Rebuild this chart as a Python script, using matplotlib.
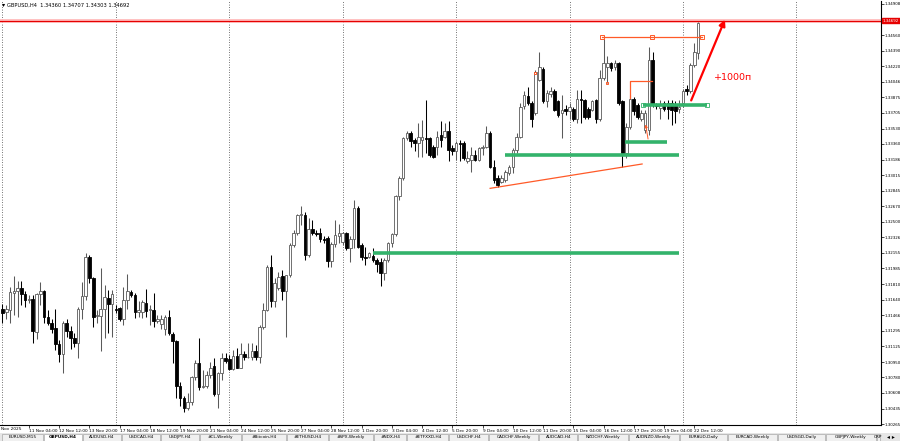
import numpy as np
import matplotlib.pyplot as plt
from matplotlib import font_manager

# GBPUSD H4 bars, 10 Nov 2025 00:00 .. 22 Dec 2025 16:00
opens = [
    1.3154, 1.3150, 1.3153, 1.3171, 1.3173, 1.3177, 1.3170, 1.3164, 1.3165, 1.3128,
    1.3170, 1.3173, 1.3145, 1.3138, 1.3133, 1.3115, 1.3104, 1.3138, 1.3129, 1.3122,
    1.3116, 1.3154, 1.3168, 1.3211, 1.3188, 1.3146, 1.3146, 1.3154, 1.3166, 1.3159,
    1.3154, 1.3155, 1.3142, 1.3163, 1.3172, 1.3169, 1.3150, 1.3150, 1.3160, 1.3152,
    1.3153, 1.3140, 1.3137, 1.3131, 1.3145, 1.3126, 1.3118, 1.3068, 1.3055, 1.3044,
    1.3051, 1.3078, 1.3094, 1.3067, 1.3069, 1.3081, 1.3091, 1.3060, 1.3083, 1.3099,
    1.3098, 1.3087, 1.3102, 1.3088, 1.3104, 1.3100, 1.3100, 1.3107, 1.3101, 1.3134,
    1.3153, 1.3200, 1.3162, 1.3177, 1.3190, 1.3173, 1.3191, 1.3224, 1.3237, 1.3257,
    1.3257, 1.3213, 1.3242, 1.3237, 1.3238, 1.3231, 1.3232, 1.3207, 1.3225, 1.3234,
    1.3228, 1.3237, 1.3221, 1.3231, 1.3265, 1.3224, 1.3211, 1.3211, 1.3212, 1.3208,
    1.3206, 1.3193, 1.3208, 1.3226, 1.3236, 1.3278, 1.3298, 1.3342, 1.3348, 1.3340,
    1.3337, 1.3340, 1.3343, 1.3342, 1.3333, 1.3333, 1.3346, 1.3344, 1.3350, 1.3331,
    1.3328, 1.3337, 1.3337, 1.3317, 1.3318, 1.3324, 1.3318, 1.3332, 1.3333, 1.3348,
    1.3311, 1.3298, 1.3294, 1.3296, 1.3304, 1.3311, 1.3329, 1.3344, 1.3378, 1.3389,
    1.3381, 1.3370, 1.3407, 1.3419, 1.3383, 1.3391, 1.3395, 1.3383, 1.3370, 1.3375,
    1.3372, 1.3375, 1.3363, 1.3386, 1.3385, 1.3375, 1.3374, 1.3385, 1.3363, 1.3409,
    1.3421, 1.3425, 1.3421, 1.3425, 1.3383, 1.3326, 1.3355, 1.3386, 1.3379, 1.3363,
    1.3351, 1.3351, 1.3429, 1.3379, 1.3376, 1.3381, 1.3381, 1.3381, 1.3379, 1.3375,
    1.3381, 1.3397, 1.3394, 1.3423, 1.34360,
]
highs = [
    1.3159, 1.3158, 1.3178, 1.3190, 1.3184, 1.3184, 1.3173, 1.3169, 1.3169, 1.3171,
    1.3183, 1.3175, 1.3153, 1.3142, 1.3154, 1.3119, 1.3140, 1.3142, 1.3135, 1.3127,
    1.3156, 1.3183, 1.3215, 1.3213, 1.3189, 1.3153, 1.3199, 1.3180, 1.3175, 1.3175,
    1.3158, 1.3156, 1.3178, 1.3192, 1.3175, 1.3171, 1.3162, 1.3164, 1.3176, 1.3158,
    1.3171, 1.3147, 1.3147, 1.3147, 1.3153, 1.3128, 1.3119, 1.3073, 1.3057, 1.3061,
    1.3079, 1.3097, 1.3122, 1.3086, 1.3085, 1.3095, 1.3099, 1.3084, 1.3105, 1.3105,
    1.3103, 1.3108, 1.3110, 1.3116, 1.3107, 1.3116, 1.3116, 1.3114, 1.3136, 1.3160,
    1.3202, 1.3213, 1.3188, 1.3195, 1.3197, 1.3191, 1.3226, 1.3241, 1.3259, 1.3267,
    1.3261, 1.3254, 1.3252, 1.3241, 1.3243, 1.3234, 1.3234, 1.3228, 1.3252, 1.3248,
    1.3239, 1.3239, 1.3234, 1.3274, 1.3267, 1.3226, 1.3222, 1.3217, 1.3221, 1.3210,
    1.3210, 1.3210, 1.3228, 1.3237, 1.3280, 1.3300, 1.3344, 1.3350, 1.3350, 1.3342,
    1.3359, 1.3362, 1.3385, 1.3344, 1.3335, 1.3350, 1.3361, 1.3359, 1.3361, 1.3335,
    1.3339, 1.3340, 1.3339, 1.3328, 1.3333, 1.3329, 1.3333, 1.3335, 1.3356, 1.3350,
    1.3318, 1.3302, 1.3302, 1.3307, 1.3313, 1.3331, 1.3348, 1.3381, 1.3394, 1.3399,
    1.3383, 1.3418, 1.3438, 1.3421, 1.3396, 1.3399, 1.3397, 1.3385, 1.3390, 1.3379,
    1.3381, 1.3377, 1.3396, 1.3396, 1.3386, 1.3377, 1.3385, 1.3386, 1.3418, 1.3455,
    1.3433, 1.3427, 1.3429, 1.3427, 1.3385, 1.3359, 1.3390, 1.3388, 1.3381, 1.3374,
    1.3373, 1.3443, 1.3438, 1.3381, 1.3385, 1.3383, 1.3385, 1.3385, 1.3383, 1.3385,
    1.3397, 1.3401, 1.3425, 1.3447, 1.34707,
]
lows = [
    1.3138, 1.3142, 1.3138, 1.3147, 1.3145, 1.3158, 1.3156, 1.3160, 1.3116, 1.3120,
    1.3158, 1.3138, 1.3136, 1.3127, 1.3108, 1.3095, 1.3083, 1.3123, 1.3109, 1.3112,
    1.3099, 1.3142, 1.3164, 1.3182, 1.3134, 1.3138, 1.3107, 1.3121, 1.3127, 1.3123,
    1.3149, 1.3140, 1.3136, 1.3154, 1.3167, 1.3144, 1.3145, 1.3144, 1.3145, 1.3136,
    1.3134, 1.3138, 1.3131, 1.3125, 1.3125, 1.3094, 1.3055, 1.3046, 1.3040, 1.3042,
    1.3048, 1.3075, 1.3064, 1.3066, 1.3066, 1.3077, 1.3057, 1.3044, 1.3075, 1.3094,
    1.3086, 1.3086, 1.3088, 1.3088, 1.3097, 1.3099, 1.3097, 1.3097, 1.3094, 1.3132,
    1.3151, 1.3156, 1.3156, 1.3175, 1.3164, 1.3123, 1.3189, 1.3222, 1.3235, 1.3246,
    1.3208, 1.3211, 1.3235, 1.3234, 1.3228, 1.3226, 1.3200, 1.3200, 1.3222, 1.3226,
    1.3224, 1.3219, 1.3206, 1.3221, 1.3221, 1.3208, 1.3202, 1.3210, 1.3206, 1.3195,
    1.3179, 1.3186, 1.3206, 1.3222, 1.3234, 1.3274, 1.3296, 1.3340, 1.3333, 1.3328,
    1.3322, 1.3322, 1.3326, 1.3322, 1.3320, 1.3324, 1.3333, 1.3342, 1.3317, 1.3324,
    1.3318, 1.3317, 1.3318, 1.3315, 1.3305, 1.3317, 1.3317, 1.3324, 1.3331, 1.3309,
    1.3293, 1.3288, 1.3293, 1.3294, 1.3302, 1.3304, 1.3326, 1.3342, 1.3375, 1.3379,
    1.3355, 1.3368, 1.3405, 1.3381, 1.3377, 1.3388, 1.3372, 1.3366, 1.3342, 1.3368,
    1.3363, 1.3361, 1.3359, 1.3359, 1.3364, 1.3363, 1.3372, 1.3359, 1.3361, 1.3407,
    1.3403, 1.3417, 1.3418, 1.3379, 1.3311, 1.3320, 1.3353, 1.3368, 1.3363, 1.3361,
    1.3348, 1.3346, 1.3377, 1.3375, 1.3363, 1.3372, 1.3363, 1.3357, 1.3359, 1.3370,
    1.3377, 1.3390, 1.3392, 1.3421, 1.34303,
]
closes = [
    1.3149, 1.3154, 1.3172, 1.3173, 1.3177, 1.3170, 1.3164, 1.3165, 1.3129, 1.3170,
    1.3173, 1.3145, 1.3138, 1.3132, 1.3115, 1.3104, 1.3138, 1.3129, 1.3122, 1.3116,
    1.3154, 1.3168, 1.3211, 1.3188, 1.3145, 1.3147, 1.3154, 1.3167, 1.3159, 1.3170,
    1.3153, 1.3142, 1.3164, 1.3173, 1.3169, 1.3150, 1.3152, 1.3161, 1.3151, 1.3154,
    1.3140, 1.3142, 1.3143, 1.3145, 1.3127, 1.3118, 1.3068, 1.3055, 1.3044, 1.3051,
    1.3078, 1.3094, 1.3067, 1.3069, 1.3081, 1.3088, 1.3060, 1.3083, 1.3099, 1.3096,
    1.3087, 1.3102, 1.3088, 1.3104, 1.3100, 1.3101, 1.3107, 1.3100, 1.3134, 1.3153,
    1.3200, 1.3162, 1.3182, 1.3189, 1.3173, 1.3191, 1.3224, 1.3237, 1.3257, 1.3259,
    1.3213, 1.3242, 1.3237, 1.3236, 1.3231, 1.3230, 1.3207, 1.3225, 1.3235, 1.3237,
    1.3237, 1.3221, 1.3231, 1.3265, 1.3222, 1.3211, 1.3210, 1.3215, 1.3208, 1.3203,
    1.3193, 1.3208, 1.3226, 1.3236, 1.3278, 1.3298, 1.3342, 1.3348, 1.3339, 1.3337,
    1.3344, 1.3344, 1.3341, 1.3324, 1.3322, 1.3344, 1.3340, 1.3350, 1.3329, 1.3328,
    1.3337, 1.3336, 1.3320, 1.3320, 1.3324, 1.3318, 1.3332, 1.3333, 1.3348, 1.3311,
    1.3296, 1.3291, 1.3298, 1.3305, 1.3311, 1.3329, 1.3344, 1.3377, 1.3390, 1.3381,
    1.3363, 1.3416, 1.3421, 1.3383, 1.3392, 1.3395, 1.3374, 1.3368, 1.3373, 1.3372,
    1.3377, 1.3363, 1.3386, 1.3385, 1.3366, 1.3366, 1.3383, 1.3363, 1.3409, 1.3425,
    1.3425, 1.3420, 1.3425, 1.3381, 1.3326, 1.3355, 1.3386, 1.3372, 1.3366, 1.3370,
    1.3370, 1.3429, 1.3379, 1.3378, 1.3380, 1.3375, 1.3375, 1.3374, 1.3372, 1.3377,
    1.3394, 1.3394, 1.3423, 1.3437, 1.34692,
]

# axis labels
price_labels = [1.34908, 1.34560, 1.34390, 1.34220, 1.34046, 1.33875, 1.33705,
                1.33530, 1.33360, 1.33186, 1.33015, 1.32845, 1.32670, 1.32500,
                1.32326, 1.32155, 1.31985, 1.31810, 1.31640, 1.31466, 1.31295,
                1.31125, 1.30950, 1.30780, 1.30608, 1.30435, 1.30265]
date_labels = ["11 Nov 04:00", "12 Nov 12:00", "13 Nov 20:00", "17 Nov 04:00",
               "18 Nov 12:00", "19 Nov 20:00", "21 Nov 04:00", "24 Nov 12:00",
               "25 Nov 20:00", "27 Nov 04:00", "28 Nov 12:00", "1 Dec 20:00",
               "3 Dec 04:00", "4 Dec 12:00", "5 Dec 20:00", "9 Dec 04:00",
               "10 Dec 12:00", "11 Dec 20:00", "15 Dec 04:00", "16 Dec 12:00",
               "17 Dec 20:00", "19 Dec 04:00", "22 Dec 12:00"]
tabs = ["EURUSD,M15", "GBPUSD,H4", "AUDUSD,H4", "USDCAD,H4", "USDJPY,H4",
        "#CL,Weekly", "#Bitcoin,H4", "#ETHUSD,H4", "#SPX,Weekly", "#NDX,H4",
        "#ETFXXD,H4", "USDCHF,H4", "CADCHF,Weekly", "AUDCAD,H4", "NZDCHF,Weekly",
        "AUDNZD,Weekly", "EURAUD,Daily", "EURCAD,Weekly", "USDSGD,Daily",
        "GBPJPY,Weekly", "CRP"]

# drawn objects (bar index, price)
green_levels = [(98, 179, 1.32154), (133, 179, 1.33237),
                (164.7, 175.8, 1.33378), (169.5, 186.3, 1.33790)]
trend_line = [(129, 1.32869), (169.2, 1.33138)]
top_level = (158.7, 185, 1.34544)
mid_level = (166, 171.7, 1.34058, 1.33864)
resist_line = 1.34723
arrow_from = (181.9, 1.33812)
arrow_to = (191.4, 1.34762)

names = {f.name for f in font_manager.fontManager.ttflist}
if 'Liberation Sans Narrow' in names:
    small = dict(family='Liberation Sans Narrow', size=3.9)
    tiny = dict(family='Liberation Sans Narrow', size=3.6)
    head = dict(family='Liberation Sans Narrow', size=4.6)
else:
    small = dict(family='DejaVu Sans', size=3.1)
    tiny = dict(family='DejaVu Sans', size=2.9)
    head = dict(family='DejaVu Sans', size=3.7)

o = np.array(opens); h = np.array(highs); l = np.array(lows); c = np.array(closes)
x = np.arange(len(o))
up = c >= o

fig = plt.figure(figsize=(9, 4.41), dpi=100)
ax = fig.add_axes([0, 16 / 441, 881 / 900, 424 / 441])
ax.set_xlim(-0.66, 232.4)
ax.set_ylim(1.30254, 1.34939)

# weekly dotted grid
for gx in range(0, 233, 30):
    ax.axvline(gx, color='#444444', lw=0.6, ls=(0, (1, 2)), zorder=0)

# red level with halo
ax.axhline(resist_line, color='#ffb4b4', lw=2.6, zorder=1)
ax.axhline(resist_line, color='#e60000', lw=0.8, zorder=1)

# candles
edge = np.where(up, '#5a5a5a', '#000000')
fill = np.where(up, '#ffffff', '#000000')
ax.vlines(x, l, h, colors=edge, lw=0.75, zorder=2)
body = np.maximum(np.abs(c - o), 0.00003)
ax.bar(x, body, bottom=np.minimum(o, c), width=0.68, color=fill,
       edgecolor=edge, linewidth=0.6, zorder=3)

# green levels
for x0, x1, p in green_levels:
    ax.plot([x0, x1], [p, p], color='#33b36b', lw=2.6, solid_capstyle='butt', zorder=4)
gx0, gx1, gp = green_levels[-1]
ax.plot([gx0, gx1], [gp, gp], 's', ms=2.2, mfc='none', mec='#33b36b', mew=0.6, zorder=5)

# orange objects
orange = '#ff5a28'
ax.plot([trend_line[0][0], trend_line[1][0]], [trend_line[0][1], trend_line[1][1]],
        color=orange, lw=0.9, zorder=4)
tx0, tx1, tp = top_level
ax.plot([tx0, tx1], [tp, tp], color=orange, lw=0.9, zorder=4)
ax.plot([tx0, 171.9, tx1], [tp, tp, tp], 's', ms=2.2, mfc='none', mec=orange, mew=0.7, zorder=5)
mx0, mx1, mp, mlow = mid_level
ax.plot([mx0, mx0, mx1], [mlow, mp, mp], color=orange, lw=0.9, zorder=4)
ax.plot([141, 159.8], [1.34143, 1.34030], 's', ms=2, mfc='none', mec=orange, mew=0.7, zorder=5)
ax.annotate('', xy=(170, 1.33605), xytext=(170.9, 1.33384),
            arrowprops=dict(arrowstyle='-|>', color=orange, lw=0.7, mutation_scale=4), zorder=5)

# red arrow and label
ax.annotate('', xy=arrow_to, xytext=arrow_from,
            arrowprops=dict(arrowstyle='-|>', color='#ff0000', lw=1.6, mutation_scale=9))
ax.text(188.2, 1.34099, '+1000п', color='#ff0000', fontsize=6.8, va='center', ha='left')

# axes styling
for s in ['left', 'top']:
    ax.spines[s].set_visible(False)
ax.spines['right'].set_linewidth(0.8)
ax.spines['bottom'].set_linewidth(0.8)
ax.yaxis.tick_right()
ax.set_yticks(price_labels)
ax.set_yticklabels([f'{p:.5f}' for p in price_labels], fontdict=tiny)
ax.tick_params(axis='y', length=2, width=0.5, pad=0.8)
ax.set_xticks(range(7, 184, 8))
ax.set_xticklabels(date_labels, fontdict=small)
ax.tick_params(axis='x', length=2, width=0.5, pad=1)
for t in ax.get_xticklabels():
    t.set_ha('left')
fig.text(0.001, 1 - 429.5 / 441, 'Nov 2025', va='center', ha='left', **small)

# price box of the red line
ax.text(1.002, resist_line, f'{closes[-1]:.5f}', transform=ax.get_yaxis_transform(),
        color='white', va='center', ha='left',
        bbox=dict(boxstyle='square,pad=0.15', fc='#e60000', ec='#e60000'), **tiny)

# header
fig.text(2 / 900, 1 - 5 / 441, '▾', fontsize=4.5, va='center', ha='left')
fig.text(7 / 900, 1 - 5 / 441,
         f'GBPUSD,H4  {opens[-1]:.5f} {highs[-1]:.5f} {lows[-1]:.5f} {closes[-1]:.5f}',
         va='center', ha='left', **head)

# tab bar
tab_ax = fig.add_axes([0, 0, 1, 8 / 441])
tab_ax.set_xlim(0, 900)
tab_ax.set_ylim(0, 8)
tab_ax.axis('off')
tab_ax.add_patch(plt.Rectangle((0, 0), 900, 8, color='#e6e6e6'))
pos = 2
for k, name in enumerate(tabs):
    w = min(2.9 * len(name) + 12, 880 - pos)
    fc = '#ffffff' if k == 1 else '#f0f0f0'
    tab_ax.add_patch(plt.Rectangle((pos, 0), w, 7.5, fc=fc, ec='#9a9a9a', lw=0.4))
    tab_ax.text(pos + w / 2, 3.8, name, ha='center', va='center',
                fontweight='bold' if k == 1 else 'normal', **small)
    pos += w + 1
tab_ax.text(891, 3.8, '◂ ▸', fontsize=4.2, ha='center', va='center')

fig.savefig('out.png', dpi=100)
